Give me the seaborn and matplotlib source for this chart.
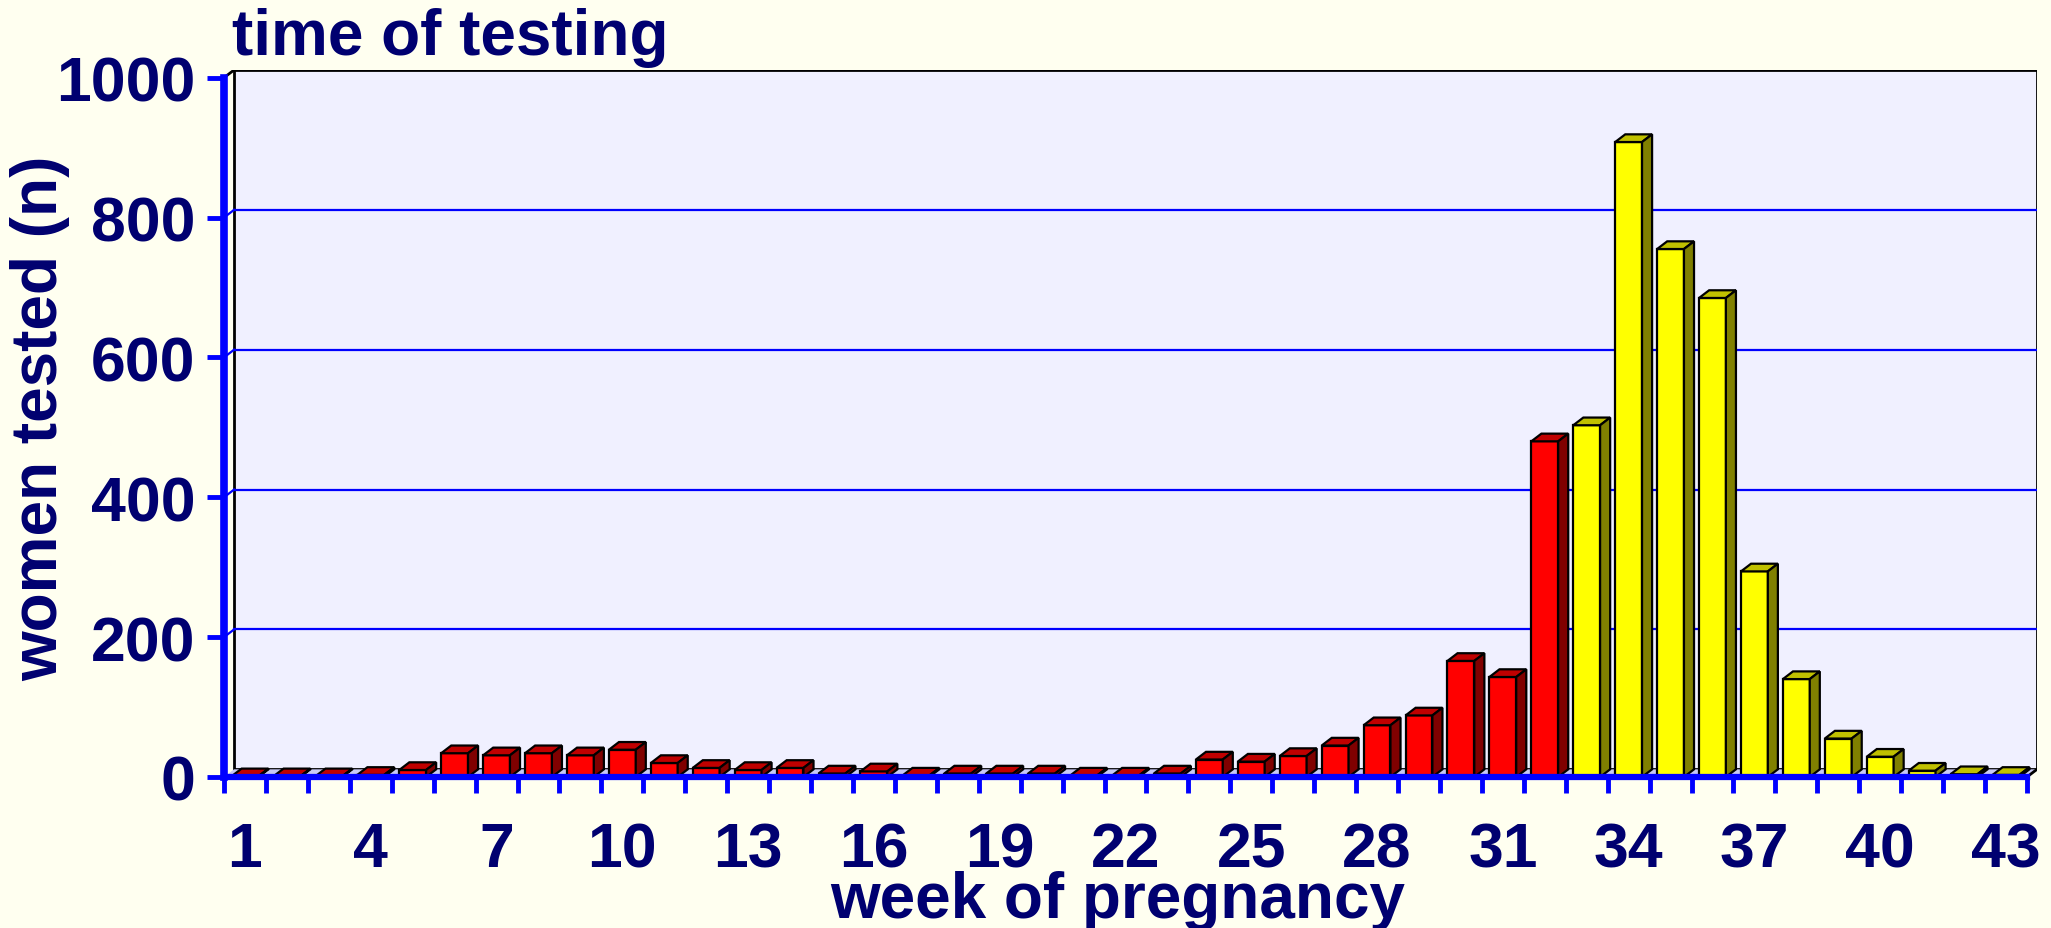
import matplotlib
matplotlib.use("Agg")
import matplotlib.pyplot as plt
from matplotlib.patches import Polygon, Rectangle
from matplotlib.colors import to_hex
import seaborn as sns
import pandas as pd
import numpy as np

# data
weeks = list(range(1, 44))
women_tested = [1, 1, 1, 3, 10, 34, 31, 34, 31, 39,
                20, 13, 10, 13, 5, 8, 2, 5, 5, 5,
                2, 2, 5, 25, 22, 30, 45, 74, 88, 166,
                143, 480, 503, 908, 755, 685, 294, 140, 55, 29,
                9, 4, 3]
group = ["early"] * 32 + ["late"] * 11
y_ticks = [0, 200, 400, 600, 800, 1000]

front_colors = {"early": "#FF0000", "late": "#FFFF00"}
top_colors = {"#ff0000": "#C00000", "#ffff00": "#C0C000"}
side_colors = {"#ff0000": "#800000", "#ffff00": "#808000"}

navy = "#000070"
blue = "#0000FF"
dx, dy = 0.24, 11  # fake 3d depth

df = pd.DataFrame({"week": [str(w) for w in weeks],
                   "n": women_tested,
                   "group": group})

plt.rcParams["font.family"] = ["Liberation Sans", "DejaVu Sans"]
plt.rcParams["font.weight"] = "bold"

fig = plt.figure(figsize=(20.51, 9.29), dpi=100)
fig.patch.set_facecolor("#FFFFF0")
ax = fig.add_axes([224 / 2051, 1 - 778 / 929, (2037 - 224) / 2051, (778 - 71) / 929])
ax.set_facecolor("none")

sns.barplot(data=df, x="week", y="n", hue="group", order=df["week"],
            palette=front_colors, dodge=False, width=0.64, legend=False,
            edgecolor="black", linewidth=1.6, saturation=1, ax=ax, zorder=3)

# back wall, floor and grid
ax.add_patch(Rectangle((-0.5 + dx, dy), 43, 1000, facecolor="#F0F0FF",
                       edgecolor="black", lw=2, zorder=0))
ax.add_patch(Polygon([(-0.5, 0), (42.5, 0), (42.5 + dx, dy), (-0.5 + dx, dy)],
                     closed=True, facecolor="#C8C8F4", edgecolor="none", zorder=0.5))
ax.plot([-0.5, -0.5 + dx], [1000, 1000 + dy], color="black", lw=2, zorder=0.6)
ax.plot([42.5, 42.5 + dx], [0, dy], color="black", lw=2, zorder=0.6)
for v in y_ticks[1:-1]:
    ax.plot([-0.5 + dx, 42.5 + dx], [v + dy, v + dy], color=blue, lw=1.6, zorder=0.6)
    ax.plot([-0.5, -0.5 + dx], [v, v + dy], color=blue, lw=1.6, zorder=0.6)

# top and side faces of each bar
for p in list(ax.patches):
    if not isinstance(p, Rectangle) or p.get_zorder() < 1:
        continue
    fc = to_hex(p.get_facecolor())
    if fc not in top_colors:
        continue
    x0, w, h = p.get_x(), p.get_width(), p.get_height()
    ax.add_patch(Polygon([(x0, h), (x0 + w, h), (x0 + w + dx, h + dy), (x0 + dx, h + dy)],
                         closed=True, facecolor=top_colors[fc], edgecolor="black",
                         lw=1.6, zorder=3))
    ax.add_patch(Polygon([(x0 + w, 0), (x0 + w + dx, dy), (x0 + w + dx, h + dy), (x0 + w, h)],
                         closed=True, facecolor=side_colors[fc], edgecolor="black",
                         lw=1.6, zorder=3))

ax.set_xlim(-0.5, 42.5 + dx)
ax.set_ylim(0, 1000 + dy)

for s in ["top", "right"]:
    ax.spines[s].set_visible(False)
for s in ["left", "bottom"]:
    ax.spines[s].set_color(blue)
    ax.spines[s].set_zorder(5)
ax.spines["left"].set_linewidth(5.5)
ax.spines["bottom"].set_linewidth(4.5)
ax.spines["left"].set_bounds(0, 1000)
ax.spines["bottom"].set_bounds(-0.5, 42.5)

ax.set_yticks(y_ticks)
ax.set_yticklabels([str(t) for t in y_ticks])
ax.tick_params(axis="y", length=12.5, width=3.5, color=blue, pad=8,
               labelsize=45, labelcolor=navy)

ax.set_xticks(range(0, 43, 3))
ax.set_xticklabels([str(w) for w in weeks[::3]])
ax.set_xticks(np.arange(-0.5, 43, 1), minor=True)
ax.tick_params(axis="x", which="major", length=0, pad=31, labelsize=45, labelcolor=navy)
ax.tick_params(axis="x", which="minor", length=11.5, width=3.5, color=blue)
for lab in ax.get_xticklabels() + ax.get_yticklabels():
    lab.set_fontweight("bold")

ax.set_xlabel("")
ax.set_ylabel("")
fig.text(232 / 2051, 1 - 55 / 929, "time of testing", fontsize=46,
         fontweight="bold", color=navy, ha="left", va="baseline")
fig.text(40 / 2051, 1 - 418 / 929, "women tested (n)", fontsize=46,
         fontweight="bold", color=navy, rotation=90, ha="center", va="center")
fig.text(1118 / 2051, 1 - 918 / 929, "week of pregnancy", fontsize=46,
         fontweight="bold", color=navy, ha="center", va="baseline")

fig.savefig("out.png", dpi=100, facecolor=fig.get_facecolor())
